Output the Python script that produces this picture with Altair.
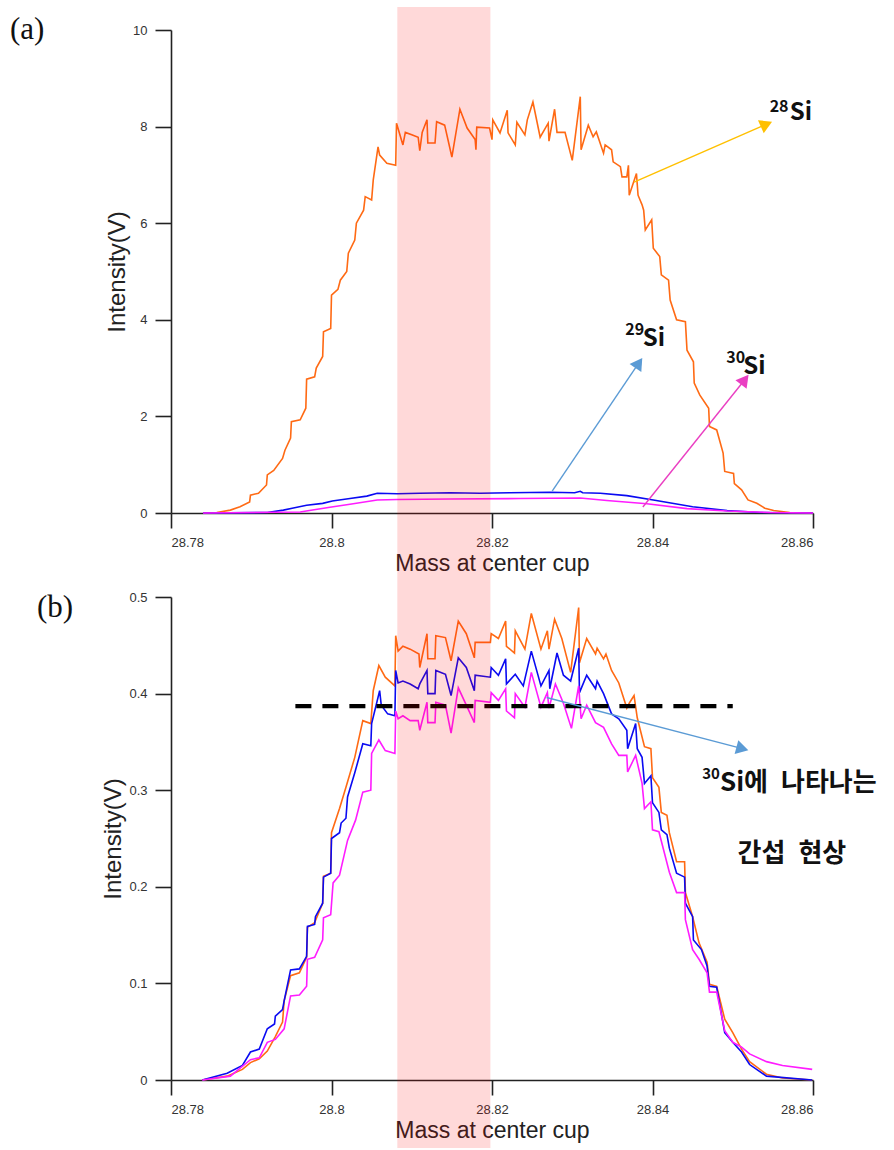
import altair as alt
import pandas as pd

# ---------------- panel (a): raw peak scan ----------------
mass_28a = [28.7840, 28.7857, 28.7874, 28.7886, 28.7898, 28.7899, 28.7909, 28.7919, 28.7920, 28.7928,
            28.7939, 28.7942, 28.7949, 28.7950, 28.7961, 28.7968, 28.7969, 28.7979, 28.7981, 28.7989,
            28.7990, 28.7999, 28.8000, 28.8008, 28.8011, 28.8019, 28.8021, 28.8029, 28.8031, 28.8040,
            28.8042, 28.8050, 28.8052, 28.8058, 28.8060, 28.8069, 28.8080, 28.8081, 28.8089, 28.8092,
            28.8100, 28.8108, 28.8110, 28.8113, 28.8119, 28.8120, 28.8129, 28.8131, 28.8141, 28.8150,
            28.8160, 28.8169, 28.8179, 28.8180, 28.8181, 28.8197, 28.8200, 28.8201, 28.8210, 28.8219,
            28.8220, 28.8229, 28.8231, 28.8241, 28.8244, 28.8251, 28.8260, 28.8270, 28.8271, 28.8278,
            28.8281, 28.8291, 28.8300, 28.8310, 28.8311, 28.8320, 28.8326, 28.8330, 28.8339, 28.8341,
            28.8349, 28.8351, 28.8360, 28.8362, 28.8368, 28.8370, 28.8371, 28.8380, 28.8382, 28.8387,
            28.8389, 28.8391, 28.8399, 28.8401, 28.8409, 28.8411, 28.8420, 28.8422, 28.8430, 28.8441,
            28.8443, 28.8451, 28.8452, 28.8459, 28.8470, 28.8471, 28.8480, 28.8488, 28.8490, 28.8501,
            28.8502, 28.8511, 28.8519, 28.8530, 28.8540, 28.8551, 28.8571, 28.8600]
int_28a = [0.00, 0.01, 0.06, 0.13, 0.23, 0.37, 0.41, 0.58, 0.79, 0.88,
           1.13, 1.30, 1.55, 1.89, 1.93, 2.17, 2.77, 2.82, 3.00, 3.24,
           3.75, 3.82, 4.51, 4.63, 4.82, 5.00, 5.38, 5.65, 6.00, 6.27,
           6.55, 6.48, 6.89, 7.58, 7.41, 7.24, 7.20, 8.07, 7.62, 7.88,
           7.83, 7.78, 7.50, 7.88, 8.14, 7.66, 7.66, 8.10, 8.03, 7.37,
           8.36, 7.97, 7.73, 7.52, 7.99, 7.97, 7.73, 8.14, 7.87, 8.34,
           7.87, 7.62, 8.09, 7.83, 8.14, 8.51, 7.78, 8.07, 7.70, 8.36,
           7.88, 7.88, 7.30, 8.62, 7.52, 8.03, 7.79, 7.89, 7.45, 7.62,
           7.52, 7.27, 7.17, 6.96, 6.96, 7.20, 6.58, 7.03, 6.58, 6.38,
           6.27, 5.86, 6.07, 5.48, 5.31, 4.93, 4.82, 4.41, 4.00, 3.96,
           3.37, 3.13, 2.69, 2.44, 2.17, 1.79, 1.72, 1.24, 0.86, 0.82,
           0.61, 0.48, 0.27, 0.20, 0.10, 0.05, 0.01, 0.00]

mass_29a = [28.7840, 28.7920, 28.7940, 28.7951, 28.7969, 28.7989, 28.8001, 28.8023, 28.8044, 28.8057,
            28.8082, 28.8110, 28.8148, 28.8185, 28.8222, 28.8272, 28.8303, 28.8310, 28.8313, 28.8335,
            28.8368, 28.8401, 28.8450, 28.8493, 28.8534, 28.8600]
int_29a = [0.00, 0.01, 0.06, 0.10, 0.16, 0.20, 0.25, 0.30, 0.35, 0.41,
           0.40, 0.41, 0.42, 0.41, 0.42, 0.43, 0.42, 0.45, 0.42, 0.41,
           0.36, 0.27, 0.13, 0.05, 0.01, 0.00]

mass_30a = [28.7840, 28.7961, 28.7998, 28.8023, 28.8057, 28.8082, 28.8148, 28.8235, 28.8310, 28.8343,
            28.8393, 28.8443, 28.8493, 28.8546, 28.8600]
int_30a = [0.00, 0.02, 0.12, 0.18, 0.27, 0.28, 0.29, 0.30, 0.31, 0.26,
           0.19, 0.09, 0.04, 0.01, 0.00]

# ---------------- panel (b): zoom on the low-intensity range ----------------
mass_28b = [28.7839, 28.7870, 28.7889, 28.7899, 28.7910, 28.7920, 28.7930, 28.7939, 28.7941, 28.7949,
            28.7960, 28.7969, 28.7970, 28.7979, 28.7989, 28.7990, 28.7999, 28.8000, 28.8010, 28.8018,
            28.8029, 28.8039, 28.8049, 28.8052, 28.8059, 28.8067, 28.8079, 28.8080, 28.8083, 28.8089,
            28.8098, 28.8109, 28.8110, 28.8119, 28.8120, 28.8129, 28.8130, 28.8142, 28.8149, 28.8158,
            28.8168, 28.8178, 28.8179, 28.8198, 28.8199, 28.8208, 28.8217, 28.8218, 28.8228, 28.8229,
            28.8241, 28.8249, 28.8261, 28.8269, 28.8271, 28.8278, 28.8287, 28.8298, 28.8308, 28.8309,
            28.8318, 28.8329, 28.8331, 28.8339, 28.8342, 28.8349, 28.8358, 28.8368, 28.8371, 28.8377,
            28.8381, 28.8390, 28.8398, 28.8400, 28.8408, 28.8411, 28.8418, 28.8421, 28.8430, 28.8440,
            28.8441, 28.8450, 28.8458, 28.8468, 28.8471, 28.8480, 28.8490, 28.8500, 28.8511, 28.8521,
            28.8542, 28.8562, 28.8599]
int_28b = [0.000, 0.004, 0.011, 0.018, 0.022, 0.030, 0.045, 0.060, 0.082, 0.108,
           0.111, 0.127, 0.158, 0.163, 0.183, 0.211, 0.214, 0.256, 0.281, 0.303,
           0.334, 0.372, 0.369, 0.403, 0.429, 0.417, 0.408, 0.460, 0.444, 0.449,
           0.446, 0.441, 0.427, 0.462, 0.436, 0.436, 0.460, 0.458, 0.434, 0.475,
           0.462, 0.437, 0.453, 0.453, 0.462, 0.457, 0.475, 0.449, 0.442, 0.465,
           0.446, 0.483, 0.446, 0.465, 0.446, 0.477, 0.457, 0.422, 0.489, 0.432,
           0.457, 0.441, 0.447, 0.436, 0.441, 0.424, 0.411, 0.385, 0.390, 0.398,
           0.375, 0.345, 0.343, 0.313, 0.303, 0.277, 0.274, 0.256, 0.226, 0.226,
           0.194, 0.169, 0.142, 0.122, 0.099, 0.097, 0.063, 0.049, 0.032, 0.019,
           0.006, 0.002, 0.000]

mass_29b = [28.7839, 28.7870, 28.7889, 28.7899, 28.7910, 28.7920, 28.7929, 28.7930, 28.7939, 28.7941,
            28.7949, 28.7960, 28.7969, 28.7970, 28.7979, 28.7980, 28.7989, 28.7990, 28.7999, 28.8000,
            28.8010, 28.8012, 28.8018, 28.8020, 28.8029, 28.8039, 28.8049, 28.8050, 28.8060, 28.8062,
            28.8070, 28.8079, 28.8080, 28.8083, 28.8089, 28.8098, 28.8108, 28.8110, 28.8119, 28.8120,
            28.8129, 28.8130, 28.8142, 28.8149, 28.8158, 28.8168, 28.8178, 28.8179, 28.8198, 28.8199,
            28.8208, 28.8217, 28.8218, 28.8229, 28.8239, 28.8249, 28.8261, 28.8271, 28.8272, 28.8281,
            28.8289, 28.8298, 28.8308, 28.8309, 28.8318, 28.8329, 28.8331, 28.8339, 28.8349, 28.8358,
            28.8368, 28.8369, 28.8379, 28.8381, 28.8387, 28.8390, 28.8398, 28.8400, 28.8408, 28.8411,
            28.8418, 28.8421, 28.8430, 28.8440, 28.8441, 28.8450, 28.8451, 28.8461, 28.8468, 28.8471,
            28.8480, 28.8490, 28.8500, 28.8511, 28.8521, 28.8542, 28.8599]
int_29b = [0.000, 0.007, 0.015, 0.029, 0.032, 0.053, 0.058, 0.066, 0.073, 0.082,
           0.114, 0.115, 0.128, 0.159, 0.161, 0.169, 0.183, 0.210, 0.214, 0.250,
           0.256, 0.266, 0.271, 0.293, 0.318, 0.348, 0.346, 0.369, 0.403, 0.388,
           0.379, 0.377, 0.424, 0.411, 0.413, 0.410, 0.405, 0.410, 0.424, 0.400,
           0.400, 0.424, 0.420, 0.398, 0.437, 0.427, 0.403, 0.419, 0.417, 0.427,
           0.419, 0.436, 0.410, 0.420, 0.408, 0.444, 0.408, 0.424, 0.405, 0.442,
           0.419, 0.413, 0.447, 0.401, 0.419, 0.405, 0.413, 0.400, 0.379, 0.374,
           0.362, 0.343, 0.369, 0.343, 0.334, 0.307, 0.315, 0.287, 0.277, 0.259,
           0.254, 0.240, 0.214, 0.210, 0.183, 0.169, 0.145, 0.135, 0.118, 0.097,
           0.096, 0.049, 0.039, 0.029, 0.016, 0.004, 0.000]

mass_30b = [28.7839, 28.7874, 28.7899, 28.7910, 28.7920, 28.7930, 28.7941, 28.7949, 28.7960, 28.7969,
            28.7970, 28.7979, 28.7989, 28.7990, 28.7999, 28.8002, 28.8010, 28.8020, 28.8030, 28.8039,
            28.8049, 28.8050, 28.8059, 28.8067, 28.8079, 28.8080, 28.8083, 28.8089, 28.8098, 28.8108,
            28.8110, 28.8119, 28.8120, 28.8129, 28.8130, 28.8142, 28.8149, 28.8158, 28.8168, 28.8178,
            28.8179, 28.8198, 28.8199, 28.8208, 28.8217, 28.8218, 28.8228, 28.8229, 28.8241, 28.8249,
            28.8261, 28.8269, 28.8271, 28.8279, 28.8289, 28.8299, 28.8308, 28.8311, 28.8318, 28.8329,
            28.8339, 28.8349, 28.8358, 28.8368, 28.8369, 28.8379, 28.8387, 28.8390, 28.8398, 28.8400,
            28.8408, 28.8421, 28.8430, 28.8440, 28.8441, 28.8450, 28.8458, 28.8468, 28.8471, 28.8480,
            28.8490, 28.8500, 28.8511, 28.8521, 28.8542, 28.8562, 28.8599]
int_30b = [0.000, 0.004, 0.021, 0.023, 0.039, 0.042, 0.053, 0.087, 0.088, 0.097,
           0.125, 0.127, 0.145, 0.168, 0.171, 0.204, 0.212, 0.248, 0.269, 0.298,
           0.300, 0.338, 0.352, 0.341, 0.338, 0.382, 0.374, 0.377, 0.372, 0.372,
           0.362, 0.391, 0.370, 0.370, 0.391, 0.388, 0.359, 0.406, 0.388, 0.370,
           0.393, 0.391, 0.401, 0.393, 0.405, 0.382, 0.375, 0.400, 0.386, 0.422,
           0.386, 0.401, 0.385, 0.410, 0.390, 0.364, 0.408, 0.374, 0.388, 0.370,
           0.365, 0.348, 0.336, 0.336, 0.319, 0.336, 0.307, 0.281, 0.288, 0.259,
           0.257, 0.215, 0.194, 0.194, 0.166, 0.135, 0.125, 0.111, 0.091, 0.091,
           0.051, 0.039, 0.034, 0.027, 0.019, 0.015, 0.011]

# axes / highlighted window / reference level
x_ticks = [28.78, 28.80, 28.82, 28.84, 28.86]
y_ticks_a = [0, 2, 4, 6, 8, 10]
y_ticks_b = [0, 0.1, 0.2, 0.3, 0.4, 0.5]
band_mass = [28.8082, 28.8198]
dash_mass = [28.7955, 28.8500]
dash_level = 0.387

isotopes = ["28Si", "29Si", "30Si"]
line_colors = ["#FF6A14", "#0A0AF2", "#FF1CFF"]

# annotation arrows: start, head centre, head angle, colour
arrows_a = pd.DataFrame({
    "x": [28.8377, 28.8275, 28.8388],
    "y": [6.85, 0.455, 0.124],
    "x2": [28.8542, 28.8383, 28.8515],
    "y2": [8.05, 3.106, 2.76],
    "ang": [66, 34, 38],
    "c": ["#FFC000", "#5B9BD5", "#EA3FC2"],
})
arrows_b = pd.DataFrame({
    "x": [28.8268], "y": [0.396], "x2": [28.8512], "y2": [0.343],
    "ang": [105], "c": ["#5B9BD5"],
})
labels_a = pd.DataFrame({
    "x": [28.8546, 28.8571, 28.8366, 28.8388, 28.8492, 28.8513],
    "y": [8.30, 8.14, 3.69, 3.46, 3.11, 2.88],
    "t": ["28", "Si", "29", "Si", "30", "Si"],
    "fs": [16, 24, 16, 24, 16, 24],
})
labels_b = pd.DataFrame({
    "x": [28.8462, 28.8484, 28.8506],
    "y": [0.312, 0.299, 0.226],
    "t": ["30", "Si에\u2002나타나는", "간섭\u2002현상"],
    "fs": [15, 26, 26],
})

XS = alt.Scale(domain=[28.78, 28.86], nice=False, zero=False)
X_AXIS = alt.Axis(values=x_ticks, format=".2~f", title="Mass at center cup",
                  tickSize=15, labelPadding=8, titlePadding=3)


def make_lines(masses, values):
    frames = []
    for iso, m, v in zip(isotopes, masses, values):
        frames.append(pd.DataFrame({"mass": m, "v": v, "iso": iso, "i": range(len(m))}))
    return pd.concat(frames, ignore_index=True)


def panel(df_lines, ymax, yticks, yfmt, arrows, labels, label_txt, label_y, band_y2, extra=None):
    YS = alt.Scale(domain=[0, ymax], nice=False)
    Y_AXIS = alt.Axis(values=yticks, format=yfmt, title="Intensity(V)",
                      tickSize=16, labelPadding=8, titlePadding=3)
    lines = alt.Chart(df_lines).mark_line(strokeWidth=1.6).encode(
        x=alt.X("mass:Q", scale=XS, axis=X_AXIS),
        y=alt.Y("v:Q", scale=YS, axis=Y_AXIS),
        color=alt.Color("iso:N", scale=alt.Scale(domain=isotopes, range=line_colors), legend=None),
        order="i:Q",
    )
    rules = alt.Chart(arrows).mark_rule(strokeWidth=1.4).encode(
        x=alt.X("x:Q", scale=XS, axis=X_AXIS), y=alt.Y("y:Q", scale=YS, axis=Y_AXIS),
        x2="x2:Q", y2="y2:Q", color=alt.Color("c:N", scale=None),
    )
    heads = alt.Chart(arrows).mark_point(shape="triangle-up", filled=True, size=200, opacity=1).encode(
        x=alt.X("x2:Q", scale=XS, axis=X_AXIS), y=alt.Y("y2:Q", scale=YS, axis=Y_AXIS),
        angle=alt.Angle("ang:Q", scale=None), color=alt.Color("c:N", scale=None),
    )
    texts = alt.Chart(labels).mark_text(align="left", baseline="alphabetic", fontWeight="bold",
                                        font="Noto Sans CJK KR", color="#111").encode(
        x=alt.X("x:Q", scale=XS, axis=X_AXIS), y=alt.Y("y:Q", scale=YS, axis=Y_AXIS),
        text="t:N", size=alt.Size("fs:Q", scale=None),
    )
    band = alt.Chart(pd.DataFrame({"b0": [band_mass[0]], "b1": [band_mass[1]]})).mark_rect(
        color="#FF0000", opacity=0.15).encode(
        x=alt.X("b0:Q", scale=XS, axis=X_AXIS), x2="b1:Q",
        y=alt.value(label_y[1]), y2=alt.value(band_y2),
    )
    plabel = alt.Chart(pd.DataFrame({"t": [label_txt]})).mark_text(
        align="left", baseline="middle", font="Liberation Serif", fontSize=31, color="#111").encode(
        text="t:N", x=alt.value(label_y[0][0]), y=alt.value(label_y[0][1]),
    )
    layers = [lines]
    if extra is not None:
        layers.append(extra(YS, Y_AXIS))
    layers += [rules, heads, texts, band, plabel]
    return alt.layer(*layers).properties(width=642, height=483)


def dashed(YS, Y_AXIS):
    return alt.Chart(pd.DataFrame({"x": [dash_mass[0]], "x2": [dash_mass[1]], "y": [dash_level]})).mark_rule(
        strokeWidth=4.3, strokeDash=[16, 11], color="#000000").encode(
        x=alt.X("x:Q", scale=XS, axis=X_AXIS), x2="x2:Q", y=alt.Y("y:Q", scale=YS, axis=Y_AXIS),
    )


top = panel(make_lines([mass_28a, mass_29a, mass_30a], [int_28a, int_29a, int_30a]),
            10, y_ticks_a, "d", arrows_a, labels_a, "(a)", ((-161, 0), -23), 567)
bottom = panel(make_lines([mass_28b, mass_29b, mass_30b], [int_28b, int_29b, int_30b]),
               0.5, y_ticks_b, ".1~f", arrows_b, labels_b, "(b)", ((-134, 11), 0), 551, extra=dashed)

chart = alt.vconcat(top, bottom, spacing=84, bounds="flush").properties(
    padding={"left": 10, "top": 7, "right": 0, "bottom": 0}
).configure_view(stroke=None).configure_axis(
    grid=False, domainColor="#222", domainWidth=1.6, tickColor="#222", tickWidth=1.6,
    labelColor="#333", labelFont="Liberation Sans", labelFontSize=13,
    titleFont="Liberation Sans", titleFontWeight="normal", titleColor="#222",
).configure_axisX(titleFontSize=23).configure_axisY(titleFontSize=24)

chart.save("out.html", embed_options={"renderer": "svg", "actions": False})
